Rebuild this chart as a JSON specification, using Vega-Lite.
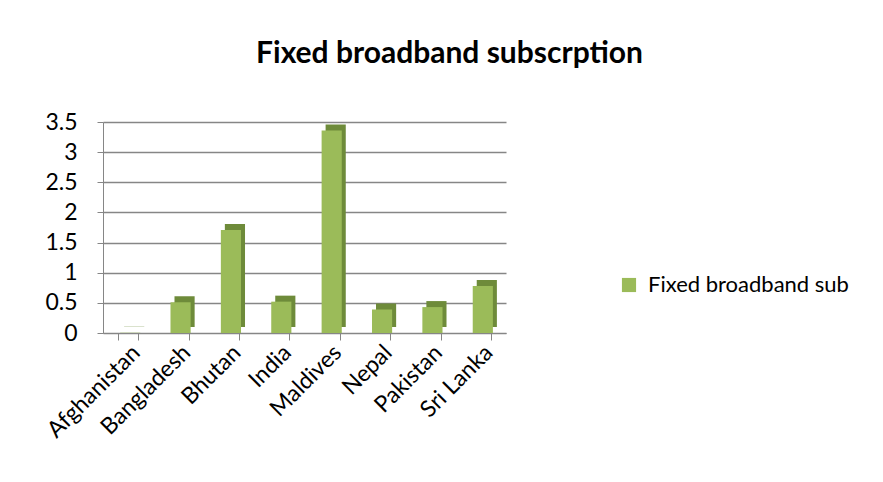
{
  "$schema": "https://vega.github.io/schema/vega-lite/v6.json",
  "autosize": "none",
  "padding": {"left": 103, "top": 122, "right": 330, "bottom": 149},
  "width": 457,
  "height": 211,
  "background": "white",
  "config": {"view": {"stroke": null}, "font": "Lato"},
  "title": {"text": "Fixed broadband subscrption", "font": "Lato", "fontSize": 30, "fontWeight": "bold", "color": "#000000", "anchor": "middle", "frame": "group", "dx": 118, "offset": 42},
  "data": {"values": [
    {"country": "Afghanistan", "value": 0.004},
    {"country": "Bangladesh", "value": 0.51},
    {"country": "Bhutan", "value": 1.71},
    {"country": "India", "value": 0.52},
    {"country": "Maldives", "value": 3.36},
    {"country": "Nepal", "value": 0.39},
    {"country": "Pakistan", "value": 0.43},
    {"country": "Sri Lanka", "value": 0.78}
  ]},
  "encoding": {
    "x": {"field": "country", "type": "nominal", "sort": null,
      "scale": {"range": [0, 403], "paddingInner": 0.6, "paddingOuter": 0.3},
      "axis": {"title": null, "labelAngle": -45, "labelFontSize": 23, "labelColor": "#000000", "labelFont": "Lato",
        "domainColor": "#868686", "tickColor": "#868686", "tickBand": "extent", "tickSize": 7, "labelPadding": 1, "grid": false, "labelLimit": 0}},
    "y": {"field": "value", "type": "quantitative",
      "scale": {"domain": [0, 3.5], "nice": false, "zero": true},
      "axis": {"title": null, "values": [0, 0.5, 1, 1.5, 2, 2.5, 3, 3.5], "labelFontSize": 23, "labelColor": "#000000", "labelFont": "Lato",
        "domainColor": "#868686", "tickColor": "#868686", "tickSize": 6, "labelPadding": 20, "grid": true, "gridColor": "#868686", "gridWidth": 1.5,
        "labelExpr": "datum.value"}}
  },
  "layer": [
    {"mark": {"type": "bar", "color": "#6E8B3A", "xOffset": 6, "yOffset": -6}},
    {"mark": {"type": "bar", "xOffset": 2},
     "encoding": {"color": {"datum": "Fixed broadband sub", "type": "nominal",
       "scale": {"range": ["#9BBB59"]},
       "legend": {"title": null, "orient": "none", "legendX": 515, "legendY": 152, "labelFontSize": 22, "labelFont": "Lato", "labelColor": "#000000", "symbolType": "square", "symbolSize": 200, "symbolStrokeWidth": 0, "labelOffset": 8, "padding": 0, "labelLimit": 0}}}}
  ]
}
